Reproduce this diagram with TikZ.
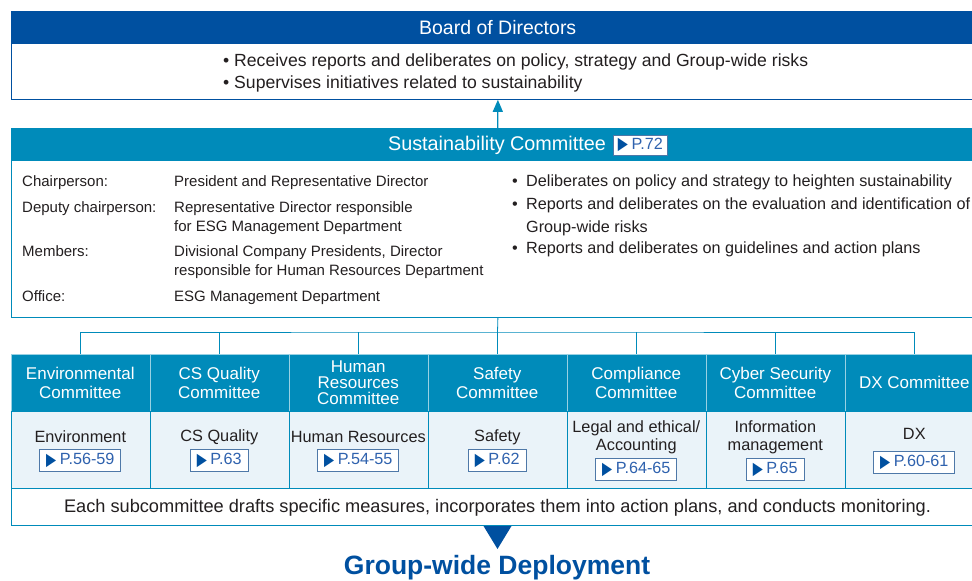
\documentclass[tikz,border=0pt]{standalone}
\usepackage{fontspec}
\setmainfont{Liberation Sans}
\newfontfamily\symfont{DejaVu Sans}
\usetikzlibrary{arrows.meta}
\definecolor{dblue}{HTML}{0050A0}
\definecolor{cteal}{HTML}{008BBA}
\definecolor{lblue}{HTML}{EAF3F9}
\definecolor{txtc}{HTML}{231F20}
\definecolor{refblue}{HTML}{2F62AE}
\definecolor{refedge}{HTML}{4E78A8}
\newcommand\refarrow{{\symfont\color{dblue}\fontsize{17.5}{17.5}\selectfont\raisebox{-0.5pt}{\scalebox{0.75}[1]{▶}}}\hspace{3.5pt}}
\tikzset{
  hdrbox/.style={fill=dblue, text=white, anchor=north west, inner sep=0pt, minimum width=974, font=\fontsize{19.5}{22}\selectfont},
  shdrbox/.style={fill=cteal, text=white, anchor=north west, inner sep=0pt, minimum width=974},
  bodybox/.style={fill=white, anchor=north west, inner sep=0pt, minimum width=974, line width=0.8pt},
  ctext/.style={text=txtc, inner sep=0pt},
  chdr/.style={fill=cteal, draw=white!60!cteal, line width=0.6pt, text=white, anchor=north west, inner sep=0pt, minimum width=139, minimum height=57, align=center, font=\fontsize{17}{19}\selectfont},
  csub/.style={fill=lblue, draw=cteal, line width=0.6pt, anchor=north west, inner sep=0pt, minimum width=139, minimum height=77},
  subtxt/.style={ctext, align=center, font=\fontsize{16.3}{18}\selectfont},
  refbox/.style={draw=refedge, line width=0.9pt, fill=white, text=refblue, inner xsep=6.5pt, inner ysep=0pt, minimum height=21.5, font=\fontsize{16.2}{17}\selectfont},
  tree/.style={draw=cteal, line width=0.8pt},
}
\begin{document}
\begin{tikzpicture}[x=1pt,y=-1pt]
\clip (0,0) rectangle (972,581);
\fill[white] (0,0) rectangle (972,581);

% Board of Directors
\node[hdrbox, minimum height=32] (bh) at (10.5,11) {Board of Directors};
\node[bodybox, draw=dblue, minimum height=56] (bb) at (10.5,43) {};
\node[ctext, anchor=base west, align=left, font=\fontsize{17.6}{22}\selectfont] (bbt) at (223,88)
  {• Receives reports and deliberates on policy, strategy and Group-wide risks\\
   • Supervises initiatives related to sustainability};

% Sustainability Committee
\node[shdrbox, minimum height=32] (sh) at (10.5,128) {};
\node[text=white, inner sep=0pt, font=\fontsize{19.8}{22}\selectfont] (sht) at (497,145) {Sustainability Committee};
\node[refbox, anchor=west, minimum height=20, inner xsep=4.5pt] (shr) at (613,145) {\refarrow P.72};
\node[bodybox, draw=cteal, minimum height=157] (sb) at (10.5,160) {};
\draw[cteal, line width=1.2pt, -{Triangle[width=10pt,length=12pt]}] (sh.north) -- (bb.south);

\begin{scope}[every node/.style={ctext, anchor=base west, align=left, font=\fontsize{15}{18.5}\selectfont}]
\node (l1) at (22,186.5) {Chairperson:};
\node (l2) at (22,212.5) {Deputy chairperson:};
\node (l3) at (22,256.5) {Members:};
\node (l4) at (22,301.5) {Office:};
\node (v1) at (174,186.5) {President and Representative Director};
\node (v2) at (174,231) {Representative Director responsible\\for ESG Management Department};
\node (v3) at (174,275) {Divisional Company Presidents, Director\\responsible for Human Resources Department};
\node (v4) at (174,301.5) {ESG Management Department};
\end{scope}

\begin{scope}[every node/.style={ctext, anchor=base west, align=left, font=\fontsize{16.2}{23}\selectfont}]
\node (b1) at (512,186.5) {•};
\node (b2) at (512,209.5) {•};
\node (b3) at (512,253.5) {•};
\node (r1) at (526,186.5) {Deliberates on policy and strategy to heighten sustainability};
\node (r2) at (526,232.5) {Reports and deliberates on the evaluation and identification of\\Group-wide risks};
\node (r3) at (526,253.5) {Reports and deliberates on guidelines and action plans};
\end{scope}

% Committees
\node[chdr] (c1) at (10.5,354) {Environmental\\Committee};
\node[chdr] (c2) at (149.5,354) {CS Quality\\Committee};
\node[chdr, font=\fontsize{17}{16}\selectfont] (c3) at (288.5,354) {Human\\Resources\\Committee};
\node[chdr] (c4) at (427.5,354) {Safety\\Committee};
\node[chdr] (c5) at (566.5,354) {Compliance\\Committee};
\node[chdr] (c6) at (705.5,354) {Cyber Security\\Committee};
\node[chdr] (c7) at (844.5,354) {DX Committee};

\node[csub] (s1) at (10.5,411) {};
\node[csub] (s2) at (149.5,411) {};
\node[csub] (s3) at (288.5,411) {};
\node[csub] (s4) at (427.5,411) {};
\node[csub] (s5) at (566.5,411) {};
\node[csub] (s6) at (705.5,411) {};
\node[csub] (s7) at (844.5,411) {};

\node[subtxt] (t1) at (s1.center |- 0,437) {Environment};
\node[subtxt] (t2) at (s2.center |- 0,437) {CS Quality};
\node[subtxt] (t3) at (s3.center |- 0,437) {Human Resources};
\node[subtxt] (t4) at (s4.center |- 0,437) {Safety};
\node[subtxt] (t5) at (s5.center |- 0,437) {Legal and ethical/\\Accounting};
\node[subtxt] (t6) at (s6.center |- 0,437) {Information\\management};
\node[subtxt] (t7) at (s7.center |- 0,434) {DX};

\node[refbox] (p1) at (s1.center |- 0,460.5) {\refarrow P.56-59};
\node[refbox] (p2) at (s2.center |- 0,460.5) {\refarrow P.63};
\node[refbox] (p3) at (s3.center |- 0,460.5) {\refarrow P.54-55};
\node[refbox] (p4) at (s4.center |- 0,460.5) {\refarrow P.62};
\node[refbox] (p5) at (s5.center |- 0,469.5) {\refarrow P.64-65};
\node[refbox] (p6) at (s6.center |- 0,469.5) {\refarrow P.65};
\node[refbox] (p7) at (s7.center |- 0,462.5) {\refarrow P.60-61};

% Tree
\coordinate (jt) at (497.5,332);
\draw[tree] (sb.south) -- (jt);
\draw[tree] (c1.north) |- (jt) -| (c7.north);
\foreach \i in {2,...,6} \draw[tree] (c\i.north) -- (c\i.north |- jt);

% Bottom
\node[bodybox, draw=cteal, minimum height=37] (bt) at (10.5,488) {};
\node[ctext, font=\fontsize{18.2}{20}\selectfont] (btt) at (497.5,507.5) {Each subcommittee drafts specific measures, incorporates them into action plans, and conducts monitoring.};
\fill[dblue] (483.5,526) -- (511.5,526) -- (497.5,549) -- cycle;
\node[text=dblue, inner sep=0pt, font=\fontsize{26.5}{28}\selectfont\bfseries] (gw) at (497,568) {Group-wide Deployment};
\end{tikzpicture}
\end{document}
